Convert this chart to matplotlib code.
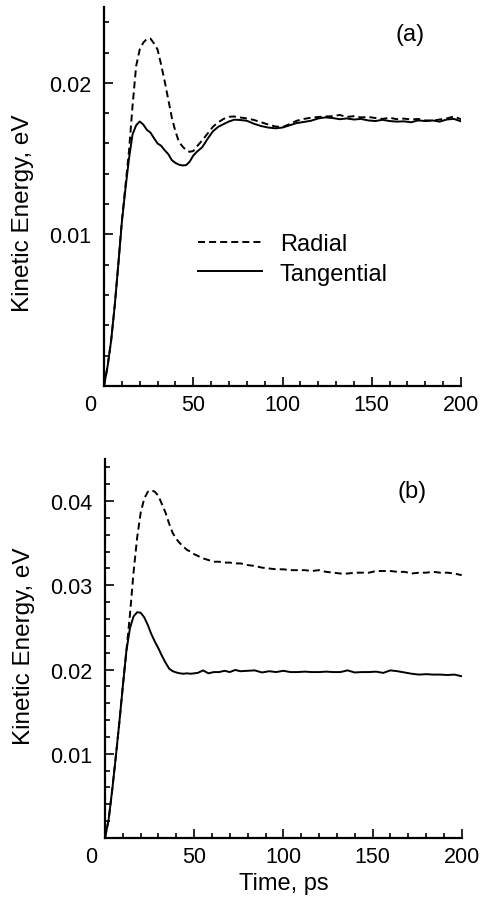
import matplotlib
matplotlib.use("Agg")
import matplotlib.pyplot as plt
from matplotlib.ticker import MultipleLocator

plt.rcParams['font.family'] = ['Liberation Sans', 'DejaVu Sans']

# time grid, ps
t = [0, 2, 4, 6, 8, 10, 12, 14, 16, 18, 20, 22, 24, 26, 28, 30, 32, 34, 36, 38,
     40, 42, 44, 46, 48, 50, 52, 55, 58, 61, 64, 67, 70, 73, 76, 80, 84, 88, 92, 96,
     100, 104, 108, 112, 116, 120, 124, 128, 132, 136, 140, 144, 148, 152, 156, 160,
     164, 168, 172, 176, 180, 184, 188, 192, 196, 200]

# panel (a)
radial_a = [0, 0.0013, 0.0030, 0.0053, 0.0080, 0.0109, 0.0132, 0.0155, 0.0185, 0.0211,
            0.0222, 0.02265, 0.0229, 0.02292, 0.0226, 0.0222, 0.0212, 0.0201, 0.0189, 0.0177,
            0.0168, 0.0161, 0.0158, 0.01555, 0.01545, 0.0155, 0.0158, 0.0162, 0.01665, 0.0171,
            0.0174, 0.01762, 0.01776, 0.01778, 0.01772, 0.01765, 0.01755, 0.0174, 0.01725, 0.01712,
            0.01708, 0.01728, 0.0175, 0.01762, 0.0177, 0.01775, 0.01778, 0.0178, 0.01788, 0.01775,
            0.0178, 0.01772, 0.01775, 0.01768, 0.01762, 0.0177, 0.0176, 0.01764, 0.01758, 0.01762,
            0.01752, 0.0175, 0.01758, 0.01765, 0.01778, 0.0176]
tangential_a = [0, 0.0013, 0.0030, 0.0053, 0.0080, 0.0108, 0.0130, 0.0150, 0.0166, 0.0172,
                0.01745, 0.01725, 0.0169, 0.01672, 0.01635, 0.0160, 0.01585, 0.01555, 0.0153, 0.0149,
                0.01472, 0.0146, 0.01455, 0.01457, 0.0148, 0.0152, 0.01545, 0.01575, 0.0163, 0.0168,
                0.0171, 0.01728, 0.01745, 0.01757, 0.01755, 0.0175, 0.0173, 0.01715, 0.01705, 0.0170,
                0.01705, 0.0172, 0.01735, 0.01742, 0.0175, 0.01765, 0.01772, 0.01768, 0.0176, 0.01765,
                0.01758, 0.01762, 0.01752, 0.01748, 0.01756, 0.01748, 0.01744, 0.01746, 0.0174, 0.01752,
                0.01748, 0.01752, 0.01744, 0.01758, 0.01762, 0.01746]

# panel (b)
radial_b = [0, 0.0021, 0.0056, 0.0095, 0.0136, 0.0180, 0.0222, 0.0265, 0.0315, 0.0356,
            0.0386, 0.0403, 0.0411, 0.0413, 0.0411, 0.0406, 0.0396, 0.0386, 0.0373, 0.0362,
            0.0355, 0.0350, 0.0346, 0.0342, 0.0340, 0.0337, 0.0335, 0.0332, 0.0330, 0.0328,
            0.0328, 0.0327, 0.0327, 0.0326, 0.0326, 0.0324, 0.0323, 0.0321, 0.0320, 0.0319,
            0.0319, 0.0318, 0.0318, 0.0318, 0.0317, 0.0318, 0.0316, 0.0315, 0.0314, 0.0314,
            0.0315, 0.0315, 0.0315, 0.0317, 0.0317, 0.0317, 0.0316, 0.0316, 0.0314, 0.0315,
            0.0315, 0.0316, 0.0315, 0.0315, 0.0314, 0.0312]
tangential_b = [0, 0.0021, 0.0056, 0.0095, 0.0136, 0.0180, 0.0222, 0.0249, 0.0263, 0.0268,
                0.02675, 0.0262, 0.0253, 0.0242, 0.0233, 0.0225, 0.0216, 0.0208, 0.0201, 0.0198,
                0.01965, 0.01955, 0.0195, 0.01955, 0.0195, 0.01955, 0.0196, 0.0199, 0.01955, 0.0197,
                0.0197, 0.01985, 0.0197, 0.01995, 0.0198, 0.01985, 0.0199, 0.01965, 0.0198, 0.0197,
                0.01985, 0.0197, 0.0197, 0.01975, 0.0197, 0.0197, 0.01975, 0.0197, 0.0197, 0.0199,
                0.01965, 0.0197, 0.0197, 0.01975, 0.0196, 0.0199, 0.0198, 0.01965, 0.0195, 0.0194,
                0.01945, 0.0194, 0.0194, 0.01935, 0.0194, 0.0192]

fig = plt.figure(figsize=(4.86, 9.03), dpi=100)
ax1 = fig.add_axes([0.214, 0.5714, 0.7346, 0.4197])
ax2 = fig.add_axes([0.216, 0.0709, 0.734, 0.4197])

panels = [(ax1, radial_a, tangential_a, 0.025, '(a)', 0.459, (0.857, 0.929)),
          (ax2, radial_b, tangential_b, 0.045, '(b)', 0.509, (0.86, 0.916))]

for ax, rad, tan, ymax, tag, ylab_y, tagpos in panels:
    ax.plot(t, rad, color='black', lw=1.4, dashes=(3.6, 2.1), label='Radial')
    ax.plot(t, tan, color='black', lw=1.4, label='Tangential')
    ax.set_xlim(0, 200)
    ax.set_ylim(0, ymax)
    ax.xaxis.set_major_locator(MultipleLocator(50))
    ax.xaxis.set_minor_locator(MultipleLocator(10))
    ax.yaxis.set_major_locator(MultipleLocator(0.01))
    ax.yaxis.set_minor_locator(MultipleLocator(0.002))
    ax.spines['top'].set_visible(False)
    ax.spines['right'].set_visible(False)
    for s in ['left', 'bottom']:
        ax.spines[s].set_linewidth(1.6)
    ax.tick_params(which='both', direction='in', labelsize=15.5, width=1.2)
    ax.tick_params(which='major', length=6.5)
    ax.tick_params(which='minor', length=3.5)
    ax.tick_params(axis='y', pad=9)
    ax.tick_params(axis='x', pad=5.5)
    ax.yaxis.set_major_formatter(plt.FuncFormatter(lambda v, p: '' if v == 0 else '%.2f' % v))
    # "0" on the time axis sits left of the corner
    ax.xaxis.set_major_formatter(plt.FuncFormatter(lambda v, p: '' if v == 0 else '%d' % v))
    ax.annotate('0', xy=(0, 0), xycoords='axes fraction', xytext=(-14, -7.6),
                textcoords='offset pixels', ha='center', va='top', fontsize=15.5)
    ax.set_ylabel('Kinetic Energy, eV', fontsize=17.5)
    ax.yaxis.set_label_coords(-0.196, ylab_y)
    ax.text(tagpos[0], tagpos[1], tag, transform=ax.transAxes, fontsize=17,
            ha='center', va='center')

ax1.legend(loc='upper left', bbox_to_anchor=(0.263, 0.404), frameon=False, fontsize=17,
           handlelength=2.71, handletextpad=0.76, labelspacing=0.33, borderpad=0,
           borderaxespad=0)
ax2.set_xlabel('Time, ps', fontsize=17, labelpad=4)

fig.savefig('out.png', dpi=100)
